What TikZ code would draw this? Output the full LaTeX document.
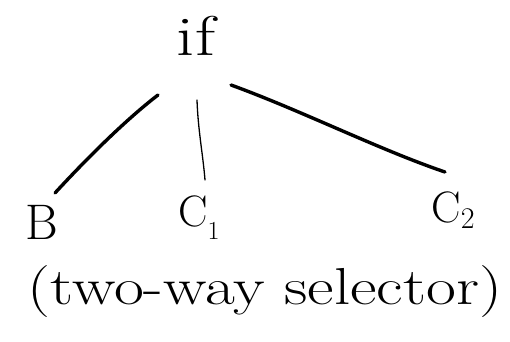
\documentclass[tikz,border=0pt]{standalone}
\begin{document}
\begin{tikzpicture}[x=1pt,y=-1pt,
  lbl/.style={inner sep=0pt, font=\fontsize{44}{52}\selectfont},
  thick edge/.style={line width=3.4pt, line cap=round},
  thin edge/.style={line width=1.3pt, line cap=round}]
\path[use as bounding box, fill=white] (0,0) rectangle (510,341);
\node[lbl, font=\fontsize{56}{64}\selectfont, xscale=1.3] (if) at (196,36) {if};
\node[lbl, font=\fontsize{50}{58}\selectfont] (B) at (42,222) {B};
\node[lbl] (C1) at (199,218) {C\raisebox{-0.3em}{\fontsize{26}{30}\selectfont 1}};
\node[lbl] (C2) at (453,210) {C\raisebox{-0.15em}{\fontsize{30}{34}\selectfont 2}};
\node[lbl, font=\fontsize{52}{60}\selectfont, xscale=1.25] (sel) at (265,292) {(two-way selector)};
\coordinate (ifL) at (158,95);
\coordinate (ifM) at (197,100);
\coordinate (ifR) at (231,85);
\coordinate (Btop) at (55,193);
\coordinate (C1top) at (205,180);
\coordinate (C2top) at (445,172);
\draw[thick edge] (ifL) .. controls (128,118) and (90,155) .. (Btop);
\draw[thin edge] (ifM) .. controls (198,130) and (203,155) .. (C1top);
\draw[thick edge] (ifR) .. controls (300,110) and (380,150) .. (C2top);
\end{tikzpicture}
\end{document}
